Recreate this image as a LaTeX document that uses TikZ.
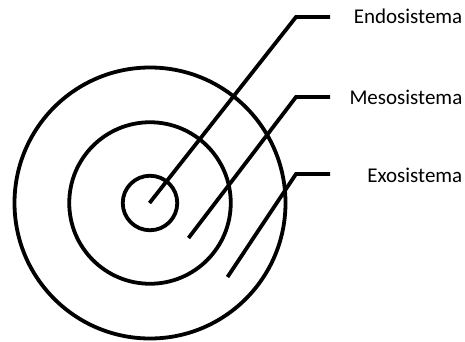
\documentclass[tikz,border=0pt]{standalone}
\usepackage{fontspec}
\setmainfont{Carlito}
\begin{document}
\begin{tikzpicture}[x=1pt,y=1pt,
  ring/.style={draw=black,line width=3.8pt,circle,inner sep=0pt,minimum size=#1},
  leader/.style={draw=black,line width=3.8pt,line cap=butt,line join=miter},
  lbl/.style={anchor=base east,inner sep=0pt,font=\fontsize{21}{25}\selectfont}]
\useasboundingbox (0,0) rectangle (465,341);
\coordinate (c) at (150,138);
\node[ring=271pt] (outer) at (c) {};
\node[ring=161.5pt] (middle) at (c) {};
\node[ring=54.5pt] (inner) at (c) {};
% leader lines
\coordinate (e0) at (149.5,138);
\coordinate (e1) at (296,324);
\coordinate (e2) at (330,324);
\coordinate (m0) at (188.5,103);
\coordinate (m1) at (296,244);
\coordinate (m2) at (330,244);
\coordinate (x0) at (227.5,64);
\coordinate (x1) at (296,167);
\coordinate (x2) at (330,167);
\draw[leader] (e0) -- (e1) -- (e2);
\draw[leader] (m0) -- (m1) -- (m2);
\draw[leader] (x0) -- (x1) -- (x2);
\node[lbl] (endo) at (462.5,317) {Endosistema};
\node[lbl] (meso) at (462.5,237) {Mesosistema};
\node[lbl] (exo) at (462.5,159) {Exosistema};
\end{tikzpicture}
\end{document}
